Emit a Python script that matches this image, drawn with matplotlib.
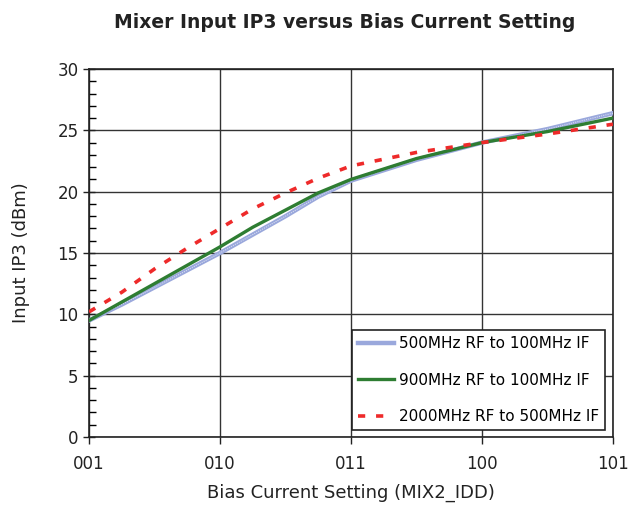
import numpy as np
import matplotlib.pyplot as plt
from matplotlib.ticker import MultipleLocator

# Bias setting index: 0..4 -> 001, 010, 011, 100, 101
tick_labels = ["001", "010", "011", "100", "101"]

x_500 = [0, 0.25, 0.5, 0.75, 1.0, 1.25, 1.5, 1.75, 2.0, 2.5, 3.0, 3.5, 4.0]
y_500 = [9.5, 10.8, 12.2, 13.6, 15.0, 16.5, 18.0, 19.6, 20.9, 22.6, 24.0, 25.1, 26.4]

x_900 = [0, 0.25, 0.5, 0.75, 1.0, 1.25, 1.5, 1.75, 2.0, 2.5, 3.0, 3.5, 4.0]
y_900 = [9.5, 11.0, 12.5, 14.0, 15.5, 17.1, 18.5, 19.9, 21.0, 22.7, 24.0, 24.9, 26.0]

x_2000 = [0, 0.25, 0.5, 0.75, 1.0, 1.25, 1.5, 1.75, 2.0, 2.5, 3.0, 3.5, 4.0]
y_2000 = [10.2, 11.8, 13.7, 15.4, 17.0, 18.6, 19.9, 21.1, 22.1, 23.2, 24.0, 24.7, 25.5]

fig = plt.figure(figsize=(6.38, 5.12), dpi=100)
ax = fig.add_axes([89 / 638, 1 - 437 / 512, (613 - 89) / 638, (437 - 69) / 512])

ax.plot(x_500, y_500, color="#9aa8dc", lw=3.2, label="500MHz RF to 100MHz IF", zorder=3)
ax.plot(x_500, y_500, color="white", lw=0.8, ls=(0, (1, 1)), alpha=0.6, zorder=3)
ax.plot(x_900, y_900, color="#2e7d32", lw=2.4, label="900MHz RF to 100MHz IF", zorder=4)
ax.plot(x_2000, y_2000, color="#ee2a2a", lw=2.6, ls=(0, (2, 3)),
        label="2000MHz RF to 500MHz IF", zorder=5)

ax.set_xlim(0, 4)
ax.set_ylim(0, 30)
ax.set_xticks(range(len(tick_labels)))
ax.set_xticklabels(tick_labels)
ax.yaxis.set_major_locator(MultipleLocator(5))
ax.yaxis.set_minor_locator(MultipleLocator(1))
ax.tick_params(axis="y", which="major", direction="inout", length=8, width=1, labelsize=12, colors="#222222")
ax.tick_params(axis="y", which="minor", direction="in", length=5, width=1)
ax.tick_params(axis="x", which="major", direction="out", length=5, width=1, labelsize=12, pad=8, colors="#222222")

ax.grid(True, which="major", color="#333333", lw=1)
for s in ax.spines.values():
    s.set_color("#222222")
    s.set_linewidth(1.2)

ax.set_xlabel("Bias Current Setting (MIX2_IDD)", fontsize=13, labelpad=8, color="#222222")
ax.set_ylabel("Input IP3 (dBm)", fontsize=13, labelpad=20, color="#222222")
fig.suptitle("Mixer Input IP3 versus Bias Current Setting", x=0.54, y=0.975,
             fontsize=13.5, fontweight="bold", color="#222222")

leg = ax.legend(loc="lower right", fontsize=11, frameon=True, fancybox=False,
                edgecolor="#222222", framealpha=1, handlelength=2.4, handletextpad=0.3,
                labelspacing=1.4, borderpad=0.4, borderaxespad=0,
                bbox_to_anchor=(0.985, 0.019))
leg.get_frame().set_linewidth(1.2)

fig.savefig("out.png", dpi=100)
